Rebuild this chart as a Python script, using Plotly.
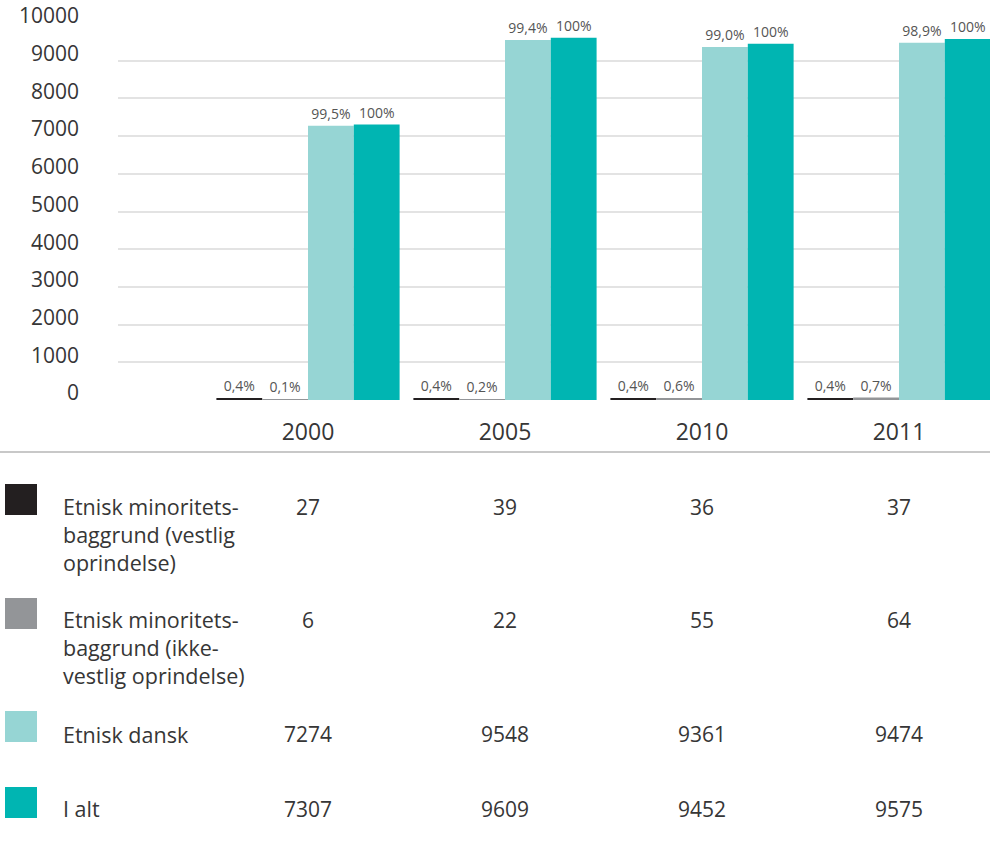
import plotly.graph_objects as go

# ---- data ----
years = ["2000", "2005", "2010", "2011"]
series_names = [
    "Etnisk minoritetsbaggrund (vestlig oprindelse)",
    "Etnisk minoritetsbaggrund (ikke-vestlig oprindelse)",
    "Etnisk dansk",
    "I alt",
]
# row labels as printed in the table (wrapped lines)
row_labels = [
    "Etnisk minoritets-<br>baggrund (vestlig<br>oprindelse)",
    "Etnisk minoritets-<br>baggrund (ikke-<br>vestlig oprindelse)",
    "Etnisk dansk",
    "I alt",
]
vestlig = [27, 39, 36, 37]
ikke_vestlig = [6, 22, 55, 64]
dansk = [7274, 9548, 9361, 9474]
i_alt = [7307, 9609, 9452, 9575]
values = [vestlig, ikke_vestlig, dansk, i_alt]

y_ticks = list(range(0, 10001, 1000))

colors = ["#231f20", "#939598", "#96d5d4", "#00b5b2"]
FONT = "'Open Sans', Lato, sans-serif"
TEXT = "#363636"

# plot area in pixels
W_FIG, H_FIG = 994, 851
L, R, T, B = 118, 990, 23, 400


def fx(px):
    return (px - L) / (R - L)


def fy(py):
    return (B - py) / (B - T)


def pct_label(v, total):
    p = v / total * 100
    if abs(p - 100) < 1e-9:
        return "100%"
    return f"{p:.1f}".replace(".", ",") + "%"


x = list(range(len(years)))
fig = go.Figure()
for name, vals, col in zip(series_names, values, colors):
    fig.add_trace(go.Bar(
        x=x, y=vals, name=name, marker=dict(color=col, line=dict(width=0)),
        text=[pct_label(v, t) for v, t in zip(vals, i_alt)],
        textposition="outside", cliponaxis=False,
        textfont=dict(family=FONT, size=14, color="#555555"),
        showlegend=False,
    ))

shapes = []
annotations = []

# separator line under the year labels
shapes.append(dict(type="line", xref="paper", yref="paper",
                   x0=fx(0), x1=fx(990), y0=fy(452), y1=fy(452),
                   line=dict(color="#c8c8c8", width=2)))

# table rows: colour square, label block, yearly values
square_tops = [484, 598, 711, 787]
label_centers = [534, 647, 734, 809]
value_centers = [507, 620, 734, 809]
for i in range(len(series_names)):
    top = square_tops[i]
    shapes.append(dict(type="rect", xref="paper", yref="paper",
                       x0=fx(5), x1=fx(37), y0=fy(top), y1=fy(top + 31),
                       fillcolor=colors[i], line=dict(width=0)))
    annotations.append(dict(text=row_labels[i], xref="paper", yref="paper",
                            x=fx(61), y=fy(label_centers[i]), xanchor="left",
                            yanchor="middle", align="left", showarrow=False,
                            font=dict(family=FONT, size=21.5, color=TEXT)))
    for j, v in enumerate(values[i]):
        annotations.append(dict(text=str(v), xref="x", yref="paper",
                                x=j, y=fy(value_centers[i]), xanchor="center",
                                yanchor="middle", showarrow=False,
                                font=dict(family=FONT, size=21, color=TEXT)))

span = 197.0
center0 = 308.0
fig.update_layout(
    width=W_FIG, height=H_FIG,
    margin=dict(l=L, r=W_FIG - R, t=T, b=H_FIG - B, pad=0, autoexpand=False),
    paper_bgcolor="white", plot_bgcolor="white",
    barmode="group", bargap=0.07, bargroupgap=0,
    font=dict(family=FONT, color=TEXT),
    xaxis=dict(
        tickmode="array", tickvals=x, ticktext=years,
        range=[(L - center0) / span, (R - center0) / span],
        showgrid=False, zeroline=False, showline=False, ticks="",
        ticklabelstandoff=16, automargin=False,
        tickfont=dict(family=FONT, size=23, color=TEXT),
    ),
    yaxis=dict(
        range=[0, 10000], tickmode="array", tickvals=y_ticks,
        ticktext=[str(t) for t in y_ticks],
        showgrid=True, gridcolor="#e3e3e3", gridwidth=2,
        zeroline=False, showline=False, ticks="",
        ticklabelstandoff=38, ticklabelshift=-7, automargin=False,
        tickfont=dict(family=FONT, size=21, color=TEXT),
    ),
    shapes=shapes, annotations=annotations,
)

fig.write_html("out.html")
